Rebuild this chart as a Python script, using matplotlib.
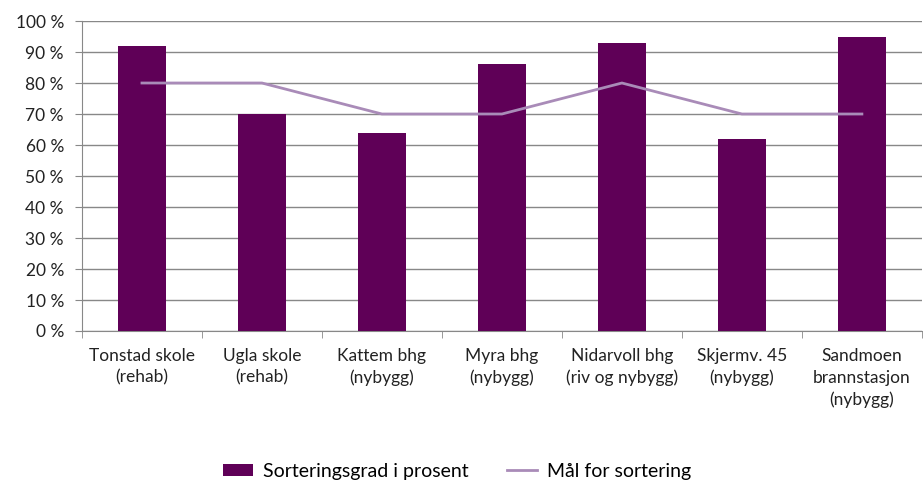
import numpy as np
import matplotlib.pyplot as plt

categories = ["Tonstad skole\n(rehab)", "Ugla skole\n(rehab)", "Kattem bhg\n(nybygg)",
              "Myra bhg\n(nybygg)", "Nidarvoll bhg\n(riv og nybygg)", "Skjermv. 45\n(nybygg)",
              "Sandmoen\nbrannstasjon\n(nybygg)"]
sortering = [92, 70, 64, 86, 93, 62, 95]
maal = [80, 80, 70, 70, 80, 70, 70]

plt.rcParams['font.family'] = ['Lato', 'DejaVu Sans']

fig = plt.figure(figsize=(9.23, 4.83), dpi=100)
ax = fig.add_axes([0.0888, 0.3147, 0.9100, 0.6418])

x = np.arange(len(categories))
bars = ax.bar(x, sortering, width=0.4, color="#5f0057", label="Sorteringsgrad i prosent", zorder=3)
line, = ax.plot(x, maal, color="#a98bb8", linewidth=2, label="Mål for sortering", zorder=4)

ax.set_xlim(-0.5, len(categories) - 0.5)
ax.set_ylim(0, 100)
ax.set_yticks(range(0, 101, 10))
ax.set_yticklabels([f"{v} %" for v in range(0, 101, 10)], fontsize=12.5, color="#222222")
ax.set_xticks(x)
ax.set_xticklabels(categories, fontsize=12.5, color="#222222", linespacing=1.45)
ax.tick_params(axis='x', length=0, pad=12)
ax.set_xticks(np.arange(-0.5, len(categories), 1), minor=True)
ax.tick_params(axis='x', which='minor', length=5, color="#888888")
ax.tick_params(axis='y', length=5, color="#888888", pad=8)

ax.grid(axis='y', color="#888888", linewidth=1, zorder=0)
for s in ['top', 'right']:
    ax.spines[s].set_visible(False)
for s in ['left', 'bottom']:
    ax.spines[s].set_color("#888888")

fig.legend([bars, line], ["Sorteringsgrad i prosent", "Mål for sortering"],
           loc='lower center', bbox_to_anchor=(0.495, -0.03), ncol=2, frameon=False,
           fontsize=14, handlelength=1.55, handleheight=0.6, handletextpad=0.5,
           columnspacing=2.0)

fig.savefig("out.png")
